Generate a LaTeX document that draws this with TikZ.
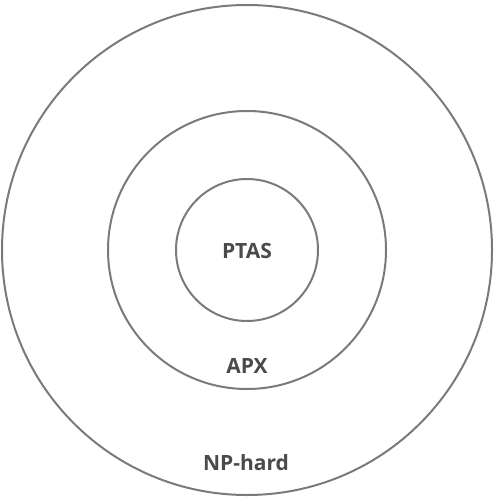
\documentclass[tikz,border=0pt]{standalone}
\usepackage{fontspec}
\newfontfamily\labelfont{Open Sans}
\definecolor{ringgray}{HTML}{7A7A7A}
\definecolor{textgray}{HTML}{4A4A4A}
\begin{document}
\begin{tikzpicture}[x=1pt,y=-1pt,
  ring/.style={draw=ringgray,line width=2pt},
  classlabel/.style={text=textgray,font=\labelfont\bfseries\fontsize{21}{25}\selectfont,inner sep=0pt}]
  \useasboundingbox (0,0) rectangle (494,500);
  % three nested complexity classes, sharing one centre
  \coordinate (c) at (247,250);
  \draw[ring] (c) circle (245);
  \draw[ring] (c) circle (139);
  \draw[ring] (c) circle (71);
  \node[classlabel] (ptas) at (247,251) {PTAS};
  \node[classlabel] (apx) at (247,366) {APX};
  \node[classlabel] (nphard) at (246,463) {NP-hard};
\end{tikzpicture}
\end{document}
